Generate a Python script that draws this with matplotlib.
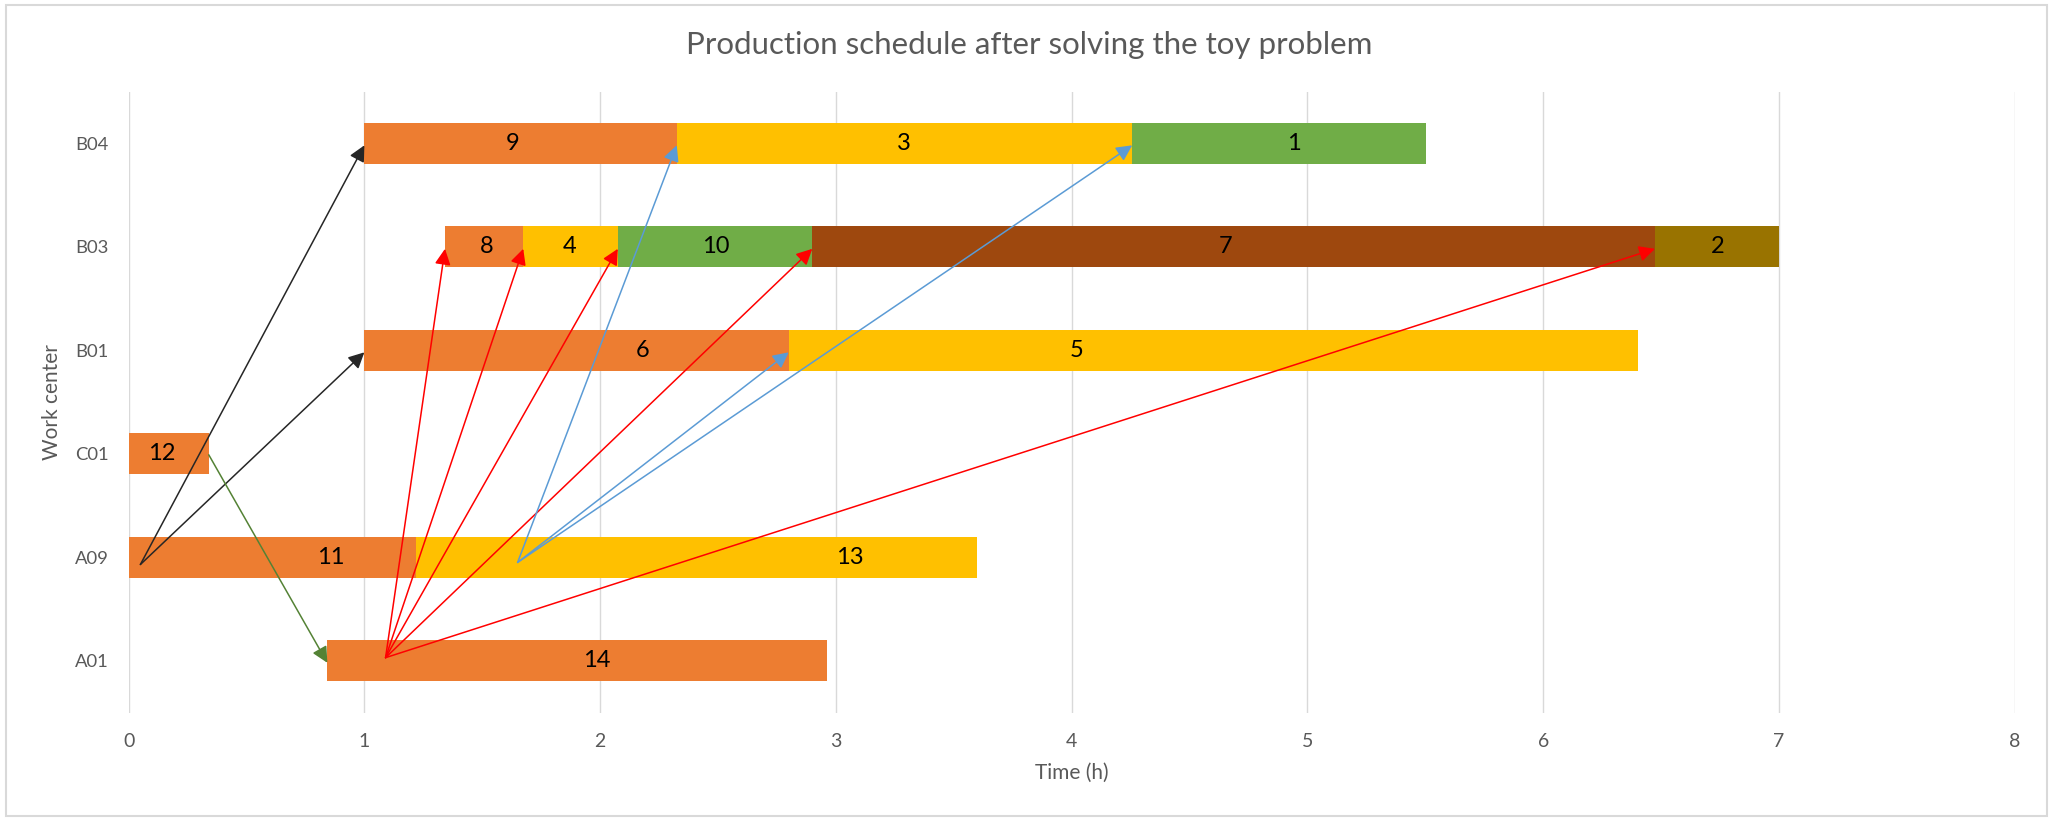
import matplotlib
matplotlib.use("Agg")
import matplotlib.pyplot as plt
from matplotlib.patches import Rectangle

plt.rcParams["font.family"] = ["Lato", "DejaVu Sans"]

# Work centers, bottom to top
work_centers = ["A01", "A09", "C01", "B01", "B03", "B04"]

# Scheduled jobs: id, work center, start and end time (h)
job_ids     = [14,    11,    13,    12,    6,     5,     8,     4,     10,    7,     2,     9,     3,     1]
job_centers = ["A01", "A09", "A09", "C01", "B01", "B01", "B03", "B03", "B03", "B03", "B03", "B04", "B04", "B04"]
job_starts  = [0.843, 0.0,   1.22,  0.0,   1.0,   2.80,  1.342, 1.674, 2.075, 2.90,  6.474, 1.0,   2.325, 4.257]
job_ends    = [2.964, 1.22,  3.60,  0.34,  2.80,  6.404, 1.674, 2.075, 2.90,  6.474, 7.0,   2.325, 4.257, 5.503]
# Horizontal position of each job's id label (h)
label_x     = [1.987, 0.858, 3.06,  0.142, 2.179, 4.019, 1.518, 1.871, 2.491, 4.653, 6.742, 1.630, 3.289, 4.941]

# Fill colour by position of the job within its work center's sequence
sequence_colors = ["#ED7D31", "#FFC000", "#70AD47", "#9E480E", "#997300"]

# Precedence links: origin point (time, row offset from center) and target job
link_origin_x   = [0.05,  0.05,  0.34,  1.09,  1.09,  1.09,  1.09,  1.09,  1.65,  1.65,  1.65]
link_origin_row = ["A09", "A09", "C01", "A01", "A01", "A01", "A01", "A01", "A09", "A09", "A09"]
link_origin_dy  = [-0.07, -0.07, -0.01, 0.03,  0.03,  0.03,  0.03,  0.03,  -0.05, -0.05, -0.05]
link_targets    = [9,     6,     14,    8,     4,     10,    7,     2,     3,     5,     1]
link_colors     = ["#262626", "#262626", "#548235", "#FF0000", "#FF0000", "#FF0000",
                   "#FF0000", "#FF0000", "#5B9BD5", "#5B9BD5", "#5B9BD5"]

fig = plt.figure(figsize=(20.58, 8.19), dpi=100)
ax = fig.add_axes([128.6 / 2058, 1 - 712.5 / 819, (2014.7 - 128.6) / 2058, (712.5 - 91.5) / 819])

row_of = {wc: i for i, wc in enumerate(work_centers)}
position_in_row = {}
for jid, wc, s, e, lx in zip(job_ids, job_centers, job_starts, job_ends, label_x):
    k = position_in_row.get(wc, 0)
    position_in_row[wc] = k + 1
    y = row_of[wc]
    ax.barh(y, e - s, left=s, height=0.4, color=sequence_colors[k],
            edgecolor="none", zorder=2)
    ax.text(lx, y, str(jid), ha="center", va="center",
            fontsize=17, color="black", zorder=3)

start_of = dict(zip(job_ids, job_starts))
center_of = dict(zip(job_ids, job_centers))
for ox, orow, ody, tgt, col in zip(link_origin_x, link_origin_row, link_origin_dy,
                                   link_targets, link_colors):
    origin = (ox, row_of[orow] + ody)
    tip = (start_of[tgt], row_of[center_of[tgt]] - 0.02)
    ax.annotate("", xy=tip, xytext=origin,
                arrowprops=dict(arrowstyle="-|>", color=col, lw=1.1,
                                mutation_scale=24, shrinkA=0, shrinkB=0),
                zorder=4)

ax.set_xlim(0, 8)
ax.set_ylim(-0.5, len(work_centers) - 0.5)
ax.set_xticks(range(0, 9))
ax.set_yticks(range(len(work_centers)))
ax.set_yticklabels(work_centers)
ax.tick_params(axis="both", length=0, labelcolor="#595959")
ax.tick_params(axis="x", pad=15, labelsize=14)
ax.tick_params(axis="y", pad=14.5, labelsize=13.3)
ax.grid(axis="x", color="#D9D9D9", lw=1, zorder=0)
ax.set_axisbelow(True)
for sp in ax.spines.values():
    sp.set_visible(False)

ax.set_xlabel("Time (h)", fontsize=15, color="#595959", labelpad=9)
ax.set_ylabel("Work center", fontsize=15, color="#595959", labelpad=9)

fig.text(0.5, 1 - 45 / 819, "Production schedule after solving the toy problem",
         ha="center", va="center", fontsize=22.5, color="#595959")

# Chart area frame
fig.patches.append(Rectangle((6 / 2058, 3 / 819), (2047 - 6) / 2058, (814 - 3) / 819,
                             transform=fig.transFigure, fill=False,
                             edgecolor="#D9D9D9", lw=1.5))

fig.savefig("out.png", dpi=100)
